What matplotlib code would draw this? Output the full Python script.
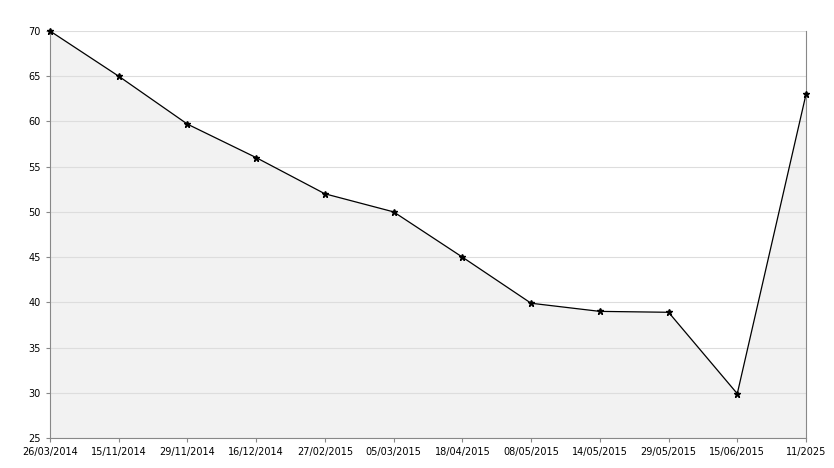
import matplotlib
matplotlib.use("Agg")
import matplotlib.pyplot as plt

dates = ['26/03/2014', '15/11/2014', '29/11/2014', '16/12/2014', '27/02/2015', '05/03/2015',
         '18/04/2015', '08/05/2015', '14/05/2015', '29/05/2015', '15/06/2015', '11/2025']
values = [70, 65, 59.7, 56, 52, 50, 45, 39.9, 39, 38.9, 29.9, 63]

fig = plt.figure(figsize=(8.34, 4.68), dpi=100)
ax = fig.add_axes([50/834, 1 - 438/468, 756/834, 407/468])
x = list(range(len(dates)))
ax.fill_between(x, values, 25, color='#f2f2f2', zorder=1)
ax.plot(x, values, color='black', lw=0.9, marker='*', markersize=5, zorder=3, clip_on=False)
ax.set_xlim(0, len(dates) - 1)
ax.set_ylim(25, 70)
ax.set_yticks(range(25, 71, 5))
ax.set_xticks(x)
ax.set_xticklabels(dates)
ax.tick_params(labelsize=7, length=3, color='#888888')
ax.grid(axis='y', color='#dddddd', lw=0.8, zorder=0)
ax.spines['top'].set_visible(False)
for s in ['left', 'bottom', 'right']:
    ax.spines[s].set_color('#888888')
fig.savefig('out.png', dpi=100)
